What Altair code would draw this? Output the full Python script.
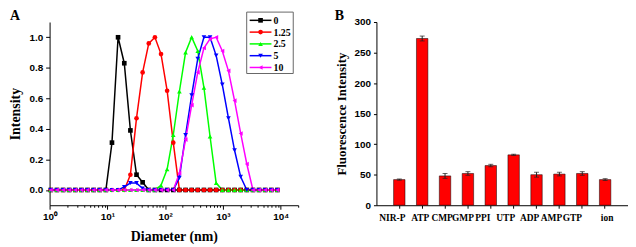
import altair as alt
import pandas as pd

# ---------------- Panel A: DLS size distributions ----------------
diameter_nm = [1.05, 1.34, 1.71, 2.18, 2.78, 3.55, 4.53, 5.78, 7.38, 9.42,
               12.0, 15.3, 19.6, 25.0, 31.9, 40.7, 52.0, 66.4, 84.7, 108.0,
               138.0, 176.0, 225.0, 287.0, 366.0, 468.0, 597.0, 762.0, 973.0, 1242.0,
               1585.0, 2023.0, 2582.0, 3296.0, 4207.0, 5370.0, 6855.0, 8750.0]

intensity_0 = [0, 0, 0, 0, 0, 0, 0, 0, 0, 0,
               0.31, 1.0, 0.83, 0.39, 0.10, 0.05, 0, 0, 0, 0,
               0, 0, 0, 0, 0, 0, 0, 0, 0, 0,
               0, 0, 0, 0, 0, 0, 0, 0]
intensity_1_25 = [0, 0, 0, 0, 0, 0, 0, 0, 0, 0,
                  0, 0, 0, 0.10, 0.47, 0.77, 0.96, 1.0, 0.89, 0.65,
                  0.31, 0, 0, 0, 0, 0, 0, 0, 0, 0,
                  0, 0, 0, 0, 0, 0, 0, 0]
intensity_2_5 = [0, 0, 0, 0, 0, 0, 0, 0, 0, 0,
                 0, 0, 0, 0, 0, 0, 0, 0, 0.03, 0.135,
                 0.36, 0.645, 0.90, 1.0, 0.91, 0.67, 0.35, 0.045, 0, 0,
                 0, 0, 0, 0, 0, 0, 0, 0]
intensity_5 = [0, 0, 0, 0, 0, 0, 0, 0, 0, 0,
               0, 0, 0.02, 0.045, 0.045, 0.01, 0, 0, 0, 0,
               0, 0.08, 0.36, 0.62, 0.86, 1.0, 1.0, 0.88, 0.69, 0.47,
               0.26, 0.086, 0, 0, 0, 0, 0, 0]
intensity_10 = [0, 0, 0, 0, 0, 0, 0, 0, 0, 0,
                0, 0, 0, 0, 0, 0, 0, 0, 0, 0,
                0, 0.11, 0.33, 0.556, 0.77, 0.93, 0.99, 1.0, 0.91, 0.78,
                0.585, 0.37, 0.17, 0, 0, 0, 0, 0]

series_names = ["0", "1.25", "2.5", "5", "10"]
series_colors = ["#000000", "#FF0000", "#00FF00", "#0000FF", "#FF00FF"]
series_shapes = ["square", "circle", "triangle-up", "triangle-down", "triangle-left"]
series_values = [intensity_0, intensity_1_25, intensity_2_5, intensity_5, intensity_10]

x_major = [1, 10, 100, 1000, 10000]
x_major_labels = ["10⁰", "10¹", "10²", "10³", "10⁴"]
x_minor = [m * 10 ** e for e in range(0, 5) for m in range(2, 10) if m * 10 ** e <= 20000]
y_ticks_a = [0.0, 0.2, 0.4, 0.6, 0.8, 1.0]

rows = []
for order, (name, shp, vals) in enumerate(zip(series_names, series_shapes, series_values)):
    for d, v in zip(diameter_nm, vals):
        rows.append({"series": name, "shape": shp, "order": order,
                     "diameter": d, "intensity": v})
dfA = pd.DataFrame(rows)

label_expr = " : ".join(
    f"datum.value == {v} ? '{t}'" for v, t in zip(x_major, x_major_labels)
) + " : ''"
major_test = " || ".join(f"datum.value == {v}" for v in x_major)

color_scale = alt.Scale(domain=series_names, range=series_colors)

x_enc = alt.X(
    "diameter:Q",
    scale=alt.Scale(type="log", domain=[1, 20000], nice=False),
    axis=alt.Axis(
        title="Diameter (nm)", values=x_major + x_minor, tickCount=200,
        labelExpr=label_expr,
        labelFlush=False, labelOverlap=False, labelPadding=2, titlePadding=9,
        tickSize={"condition": {"test": major_test, "value": 4}, "value": 2},
    ),
)
y_enc = alt.Y(
    "intensity:Q",
    scale=alt.Scale(domain=[-0.1, 1.1], nice=False, zero=False),
    axis=alt.Axis(title="Intensity", values=y_ticks_a, tickCount=20, format=".1f",
                  tickSize=4, labelOverlap=False, labelPadding=3, titlePadding=6),
)

lines = alt.Chart(dfA).mark_line(strokeWidth=1.5).encode(
    x=x_enc, y=y_enc,
    color=alt.Color("series:N", scale=color_scale, legend=None),
    detail="series:N",
    order="diameter:Q",
)
points = alt.Chart(dfA).mark_point(filled=True, size=22, opacity=1).encode(
    x="diameter:Q", y="intensity:Q",
    color=alt.Color("series:N", scale=color_scale, legend=None),
    shape=alt.Shape("shape:N", scale=None),
)

# legend box drawn inside panel A (line + marker + label per series)
legend_layers = [
    alt.Chart(pd.DataFrame({"k": [0]})).mark_rect(
        fill="#FFFFFF", stroke="#666666", strokeWidth=1
    ).encode(x=alt.value(199), x2=alt.value(246), y=alt.value(-10), y2=alt.value(52))
]
for i, (name, col, shp) in enumerate(zip(series_names, series_colors, series_shapes)):
    row_y = -1.7 + 11.9 * i
    legend_layers.append(
        alt.Chart(pd.DataFrame({"series": [name]})).mark_rule(color=col, strokeWidth=1.5)
        .encode(x=alt.value(202), x2=alt.value(224), y=alt.value(row_y))
    )
    legend_layers.append(
        alt.Chart(pd.DataFrame({"series": [name]})).mark_point(
            filled=True, shape=shp, size=22, color=col, opacity=1)
        .encode(x=alt.value(213), y=alt.value(row_y))
    )
    legend_layers.append(
        alt.Chart(pd.DataFrame({"series": [name]})).mark_text(
            align="left", baseline="middle", font="Liberation Serif", fontSize=10,
            fontWeight="bold", color="#000000")
        .encode(text="series:N", x=alt.value(226), y=alt.value(row_y + 0.5))
    )

panel_label_a = pd.DataFrame({"label": ["A"]})
label_a = alt.Chart(panel_label_a).mark_text(
    align="left", baseline="top", font="Liberation Serif", fontSize=14,
    fontWeight="bold", color="#000000"
).encode(text="label:N", x=alt.value(-40), y=alt.value(-13))

panel_a = alt.layer(lines, points, *legend_layers, label_a).properties(width=251, height=185)

# ---------------- Panel B: selectivity bars ----------------
categories = ["NIR-P", "ATP", "CMP", "GMP", "PPI", "UTP", "ADP", "AMP", "GTP", "ion"]
fluorescence = [42, 273, 48, 52, 65, 82.5, 50, 51, 52, 42]
fluorescence_err = [1, 4, 4, 3, 2, 1, 4, 3, 3, 1.5]
y_ticks_b = [0, 50, 100, 150, 200, 250, 300]
# horizontal nudge of each category label (the original labels sit a little left of the bars)
label_nudge = [-7, -2, -3, -5, -8, -8, -7, -8, -10, 2]

dfB = pd.DataFrame({"name": categories, "value": fluorescence, "err": fluorescence_err})
dfB["low"] = dfB["value"] - dfB["err"]
dfB["high"] = dfB["value"] + dfB["err"]

nudge_cond = [{"test": f"datum.value === '{c}'", "value": n}
              for c, n in zip(categories, label_nudge)]

xb = alt.X("name:N", sort=categories,
           scale=alt.Scale(paddingInner=0.5, paddingOuter=0.75),
           axis=alt.Axis(title=None, labelAngle=0, labelFont="Liberation Serif",
                         labelFontWeight="bold", labelFontSize=9.5, tickSize=3,
                         labelOverlap=False, labelPadding=4,
                         labelOffset={"condition": nudge_cond, "value": -6}))
yb_scale = alt.Scale(domain=[0, 300], nice=False)

bars = alt.Chart(dfB).mark_bar(color="#FF0000", stroke="#000000", strokeWidth=0.5).encode(
    x=xb,
    y=alt.Y("value:Q", scale=yb_scale,
            axis=alt.Axis(title="Fluorescence Intensity", values=y_ticks_b, tickCount=20,
                          tickSize=3, labelOverlap=False, labelPadding=3, titlePadding=6,
                          titleFontSize=13)),
)
err_rule = alt.Chart(dfB).mark_rule(color="#222222", strokeWidth=1).encode(
    x=alt.X("name:N", sort=categories), y="low:Q", y2="high:Q")
cap_low = alt.Chart(dfB).mark_tick(color="#222222", thickness=1, size=5).encode(
    x=alt.X("name:N", sort=categories), y="low:Q")
cap_high = alt.Chart(dfB).mark_tick(color="#222222", thickness=1, size=5).encode(
    x=alt.X("name:N", sort=categories), y="high:Q")

panel_label_b = pd.DataFrame({"label": ["B"]})
label_b = alt.Chart(panel_label_b).mark_text(
    align="left", baseline="top", font="Liberation Serif", fontSize=14,
    fontWeight="bold", color="#000000"
).encode(text="label:N", x=alt.value(-42), y=alt.value(-13))

panel_b = alt.layer(bars, err_rule, cap_low, cap_high, label_b).properties(width=254, height=185)

chart = alt.hconcat(panel_a, panel_b, spacing=36).properties(
    padding={"left": 1, "top": 0, "right": 0, "bottom": 0},
).configure_view(stroke=None).configure_axis(
    grid=False, domainColor="#000000", domainWidth=1, tickColor="#000000", tickWidth=1,
    labelColor="#000000", labelFont="Liberation Sans", labelFontWeight="bold", labelFontSize=10,
    titleColor="#000000", titleFont="Liberation Serif", titleFontWeight="bold", titleFontSize=14,
)

chart.save("out.html", embed_options={"renderer": "svg", "actions": False})
